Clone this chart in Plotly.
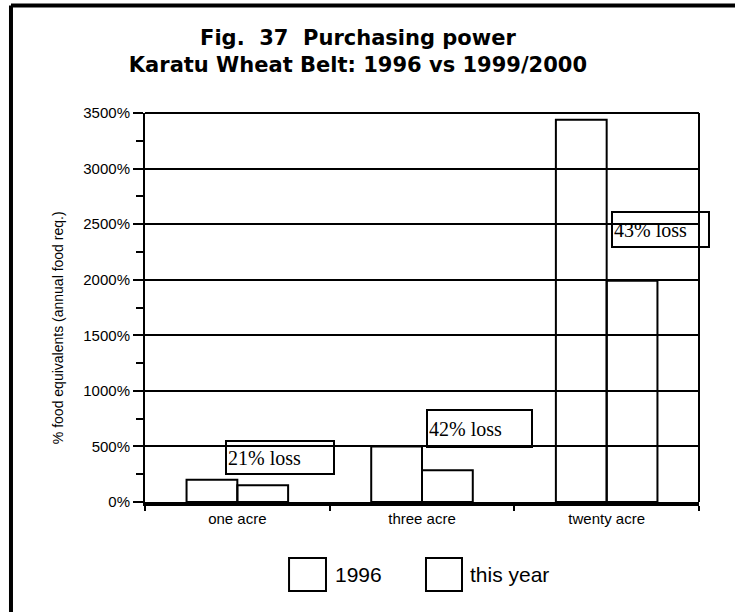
import plotly.graph_objects as go

categories = ["one acre", "three acre", "twenty acre"]
series_names = ["1996", "this year"]
values_1996 = [200, 500, 3440]
values_this_year = [150, 285, 1990]
loss_labels = ["21% loss", "42% loss", "43% loss"]
loss_label_y = [396, 665, 2455]
loss_label_x = [0.23, 1.31, 2.29]
y_tick_vals = [0, 500, 1000, 1500, 2000, 2500, 3000, 3500]
y_tick_text = ["0%", "500%", "1000%", "1500%", "2000%", "2500%", "3000%", "3500%"]

SANS = "Liberation Sans, Arial, sans-serif"
TITLE_FONT = "DejaVu Sans, Liberation Sans, sans-serif"
SERIF = "Liberation Serif, Times New Roman, serif"

fig = go.Figure()
for name, vals in zip(series_names, [values_1996, values_this_year]):
    fig.add_trace(go.Bar(
        x=categories, y=vals, name=name,
        marker=dict(color="rgba(255,255,255,0)", line=dict(color="black", width=2)),
        showlegend=False,
    ))

fig.update_layout(
    width=735, height=612,
    margin=dict(l=145, r=36, t=113, b=110),
    paper_bgcolor="white", plot_bgcolor="white",
    barmode="group", bargap=0.45, bargroupgap=0,
    title=dict(
        text="<b>Fig.  37  Purchasing power<br>Karatu Wheat Belt: 1996 vs 1999/2000</b>",
        x=0.487, xanchor="center", y=1 - 45 / 612, yanchor="middle", yref="container",
        font=dict(family=TITLE_FONT, size=21, color="black"),
    ),
    font=dict(family=SANS, size=15, color="black"),
    xaxis=dict(
        type="category", categoryarray=categories, range=[-0.5, 2.5],
        showline=True, linecolor="black", linewidth=4,
        ticks="outside", tickson="boundaries", ticklen=5, tickwidth=2, tickcolor="black",
        showgrid=False, tickfont=dict(family=SANS, size=15),
    ),
    xaxis2=dict(
        overlaying="x", range=[-0.5, 2.5], tickvals=[-0.5, 0.5, 1.5, 2.5],
        ticks="inside", ticklen=8, tickwidth=2, tickcolor="black",
        showticklabels=False, showgrid=False, showline=False, zeroline=False,
        anchor="y", side="bottom",
    ),
    yaxis=dict(
        range=[0, 3500], tickvals=y_tick_vals, ticktext=y_tick_text,
        showline=True, linecolor="black", linewidth=2,
        ticks="outside", ticklen=10, tickwidth=2, tickcolor="black",
        minor=dict(dtick=250, ticks="outside", ticklen=7, tickwidth=2, tickcolor="black", showgrid=False),
        showgrid=True, gridcolor="black", gridwidth=2, zeroline=False,
        tickfont=dict(family=SANS, size=15),
    ),
    yaxis2=dict(
        overlaying="y", range=[0, 3500], tickvals=[250, 750, 1250, 1750, 2250, 2750, 3250],
        ticks="inside", ticklen=7, tickwidth=2, tickcolor="black",
        showticklabels=False, showgrid=False, showline=False, zeroline=False,
        anchor="x", side="left",
    ),
)

# y-axis title
fig.add_annotation(
    text="% food equivalents (annual food req.)", textangle=-90,
    xref="paper", yref="paper", x=-0.157, y=0.447, xanchor="center", yanchor="middle",
    showarrow=False, font=dict(family=SANS, size=14, color="black"),
)

# loss annotation boxes
box_sizes = [(104, 29), (101, 33), (93, 31)]
for txt, xv, yv, (w, h) in zip(loss_labels, loss_label_x, loss_label_y, box_sizes):
    fig.add_annotation(
        text=txt, x=xv, y=yv, xref="x", yref="y", showarrow=False,
        width=w, height=h, align="left", valign="middle",
        bordercolor="black", borderwidth=2, borderpad=1,
        font=dict(family=SERIF, size=20, color="black"),
    )

# plot frame: top and right
fig.add_shape(type="line", xref="paper", yref="paper", x0=0, x1=1, y0=1, y1=1,
              line=dict(color="black", width=2))
fig.add_shape(type="line", xref="paper", yref="paper", x0=1, x1=1, y0=0, y1=1,
              line=dict(color="black", width=2))

# outer figure frame (top and left)
fig.add_shape(type="line", xref="paper", yref="paper", x0=-0.2419, x1=1.07, y0=1.2763, y1=1.2763,
              line=dict(color="black", width=4))
fig.add_shape(type="line", xref="paper", yref="paper", x0=-0.2419, x1=-0.2419, y0=1.2763, y1=-0.29,
              line=dict(color="black", width=4))

# custom legend
legend_boxes = [(0.26, 0.3267), (0.5072, 0.5722)]
legend_text_x = [0.339, 0.583]
for name, (bx0, bx1), tx in zip(series_names, legend_boxes, legend_text_x):
    fig.add_shape(type="rect", xref="paper", yref="paper", x0=bx0, x1=bx1, y0=-0.2288, y1=-0.144,
                  line=dict(color="black", width=2), fillcolor="white")
    fig.add_annotation(text=name, xref="paper", yref="paper", x=tx, y=-0.186,
                       xanchor="left", yanchor="middle", showarrow=False,
                       font=dict(family=SANS, size=21, color="black"))

fig.write_html("out.html", config={"displayModeBar": False},
               post_script="document.body.style.margin='0';")
